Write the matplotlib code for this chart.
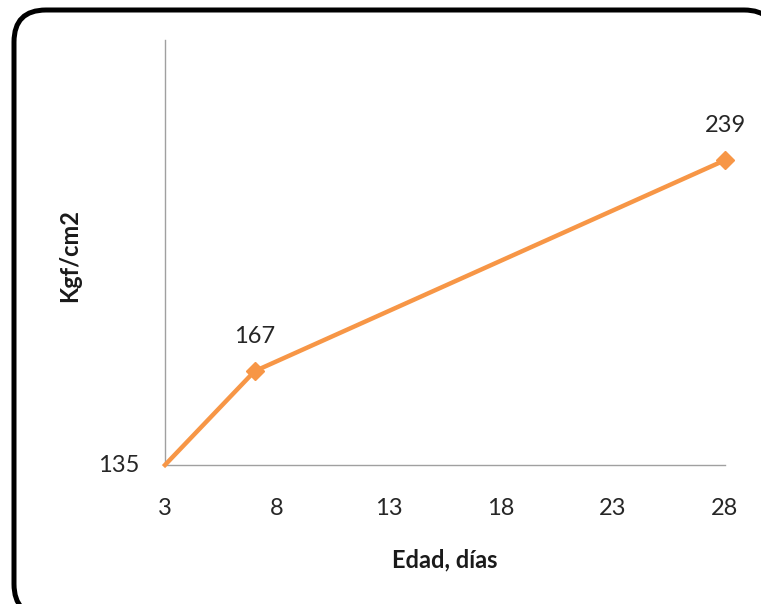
import matplotlib
matplotlib.use("Agg")
import matplotlib.pyplot as plt
from matplotlib.patches import FancyBboxPatch
from matplotlib.transforms import IdentityTransform

# Compressive strength by age
edad_dias = [3, 7, 28]
resistencia = [135, 167, 239]
x_ticks = [3, 8, 13, 18, 23, 28]

plt.rcParams['font.family'] = ['Lato', 'DejaVu Sans']

W, H = 761, 604
fig = plt.figure(figsize=(W / 100, H / 100), dpi=100, facecolor="white")

# rounded chart frame, in pixel units (origin bottom-left), drawn beneath the axes
frame = FancyBboxPatch((14, -12), 762, 606,
                       boxstyle="round,pad=0,rounding_size=32",
                       transform=IdentityTransform(), facecolor="white",
                       edgecolor="black", linewidth=3.6, clip_on=False,
                       zorder=-1)
fig.patches.append(frame)

ax = fig.add_axes([165 / W, 1 - 465 / H, (725 - 165) / W, (465 - 40) / H])
ax.set_facecolor("none")

color = "#F79646"
ax.plot(edad_dias, resistencia, color=color, linewidth=3.2, marker="D",
        markersize=9, markevery=[1, 2], clip_on=False, zorder=3)

ax.set_xlim(3, 28)
ax.set_ylim(135, 280)
ax.set_xticks(x_ticks)
ax.set_xticklabels([str(t) for t in x_ticks], fontsize=17, color="#262626")
ax.set_yticks([])
ax.tick_params(axis="x", length=0, pad=24)

for side in ("top", "right"):
    ax.spines[side].set_visible(False)
for side in ("left", "bottom"):
    ax.spines[side].set_color("#A0A0A0")
    ax.spines[side].set_linewidth(1.0)

# data labels
ax.annotate(str(resistencia[0]), (edad_dias[0], resistencia[0]), xytext=(-33, 0),
            textcoords="offset points", ha="center", va="center",
            fontsize=17, color="#262626")
for x, y in zip(edad_dias[1:], resistencia[1:]):
    ax.annotate(str(y), (x, y), xytext=(0, 25), textcoords="offset points",
                ha="center", va="center", fontsize=17, color="#262626")

fig.text(70 / W, 1 - 255 / H, "Kgf/cm2", rotation=90, ha="center", va="center",
         fontsize=17, fontweight="bold", color="#1a1a1a")
fig.text(445 / W, 1 - 560 / H, "Edad, días", ha="center", va="center",
         fontsize=17, fontweight="bold", color="#1a1a1a")

fig.savefig("out.png", dpi=100)
